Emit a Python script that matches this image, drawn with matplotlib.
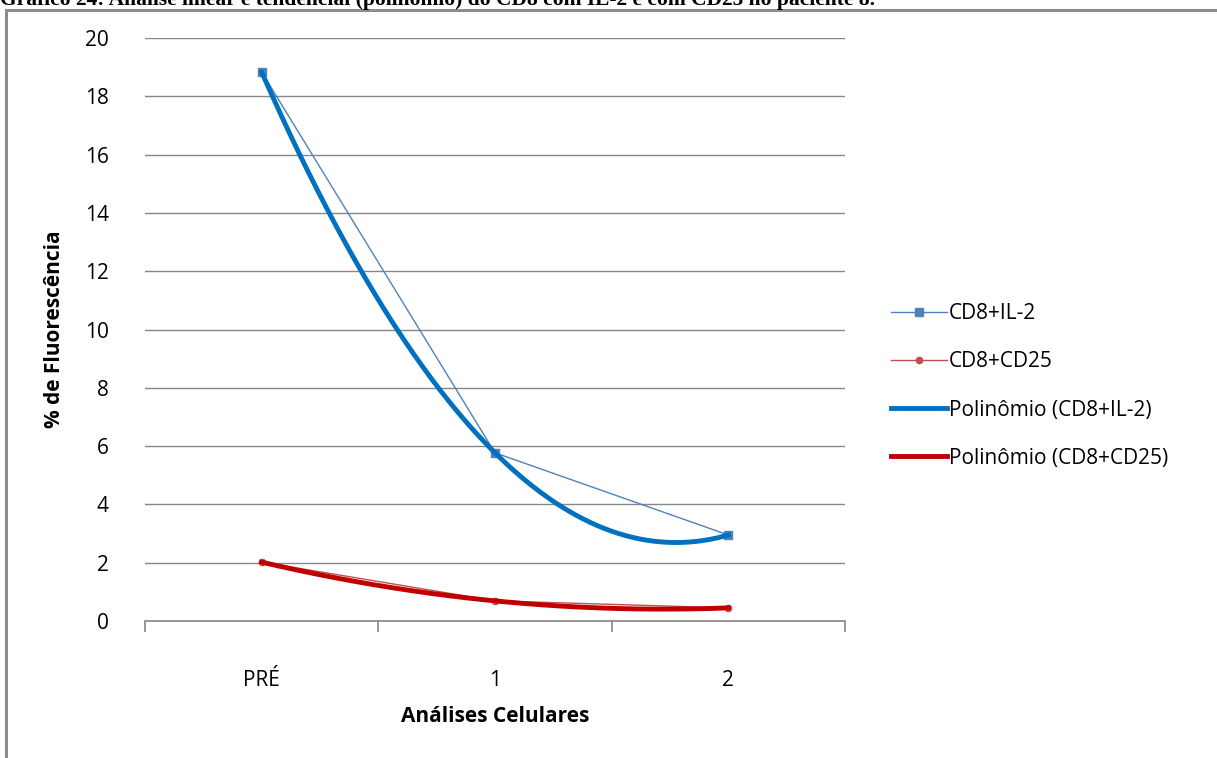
"""
Gráfico 24: CD8 com IL-2 e com CD25 no paciente 8, com linha de tendência polinomial
"""

import numpy as np
import matplotlib
matplotlib.use("Agg")
import matplotlib.pyplot as plt
from matplotlib.patches import Rectangle

plt.rcParams['font.family'] = ['Open Sans', 'DejaVu Sans']

# dados
categorias = ['PRÉ', '1', '2']
cd8_il2 = [18.83, 5.77, 2.95]
cd8_cd25 = [2.02, 0.69, 0.45]

AZUL_LINHA = '#4f81bd'
VERM_LINHA = '#c0504d'
AZUL_TEND = '#0070c0'
VERM_TEND = '#c00000'
CINZA = '#868686'
FS = 15

fig = plt.figure(figsize=(12.17, 7.58), dpi=100)

# título (cortado no topo da página)
fig.text(0.0, 1 - 5 / 758, 'Gráfico 24: Análise linear e tendencial (polinômio) do CD8 com IL-2 e com CD25 no paciente 8.',
         family='Liberation Serif', fontweight='bold', fontsize=15.5, ha='left', va='baseline')

# moldura do gráfico
fig.patches.append(Rectangle((6 / 1217, -0.1), 1.2, 1 - 10 / 758 + 0.1, transform=fig.transFigure,
                             fill=False, edgecolor='#8c8c8c', linewidth=2.2, zorder=0))

ax = fig.add_axes([145 / 1217, 1 - 621 / 758, 700 / 1217, 583 / 758])

x = np.arange(len(categorias))
ax.plot(x, cd8_il2, '-s', color=AZUL_LINHA, linewidth=1, markersize=5.5, label='CD8+IL-2', zorder=3)
ax.plot(x, cd8_cd25, '-o', color=VERM_LINHA, linewidth=1, markersize=4.5, label='CD8+CD25', zorder=3)

# tendência polinomial de ordem 2
xs = np.linspace(0, 2, 200)
p1 = np.polyfit(x, cd8_il2, 2)
p2 = np.polyfit(x, cd8_cd25, 2)
ax.plot(xs, np.polyval(p1, xs), color=AZUL_TEND, linewidth=3.5, label='Polinômio (CD8+IL-2)', zorder=4)
ax.plot(xs, np.polyval(p2, xs), color=VERM_TEND, linewidth=3.5, label='Polinômio (CD8+CD25)', zorder=4)

ax.set_xlim(-0.5, 2.5)
ax.set_ylim(0, 20)
ax.set_yticks(range(0, 21, 2))
ax.set_xticks(x)
ax.set_xticklabels(categorias)
ax.set_xticks([-0.5, 0.5, 1.5, 2.5], minor=True)
ax.tick_params(axis='x', which='major', length=0, pad=35, labelsize=FS, colors='#000000')
ax.tick_params(axis='x', which='minor', length=8, width=1.2, color=CINZA)
ax.tick_params(axis='y', length=0, pad=26, labelsize=FS)
ax.grid(axis='y', color=CINZA, linewidth=1)
ax.set_axisbelow(True)
for s in ['top', 'right', 'left']:
    ax.spines[s].set_visible(False)
ax.spines['bottom'].set_color(CINZA)
ax.spines['bottom'].set_linewidth(1.2)

ax.set_ylabel('% de Fluorescência', fontsize=FS, fontweight='bold', labelpad=14)
ax.set_xlabel('Análises Celulares', fontsize=FS, fontweight='bold', labelpad=11)

ax.legend(loc='center left', bbox_to_anchor=(872 / 1217, 1 - 386 / 758), bbox_transform=fig.transFigure,
          frameon=False, fontsize=FS, handlelength=2.7, handletextpad=0.1, labelspacing=1.3)

fig.savefig('out.png', dpi=100)
